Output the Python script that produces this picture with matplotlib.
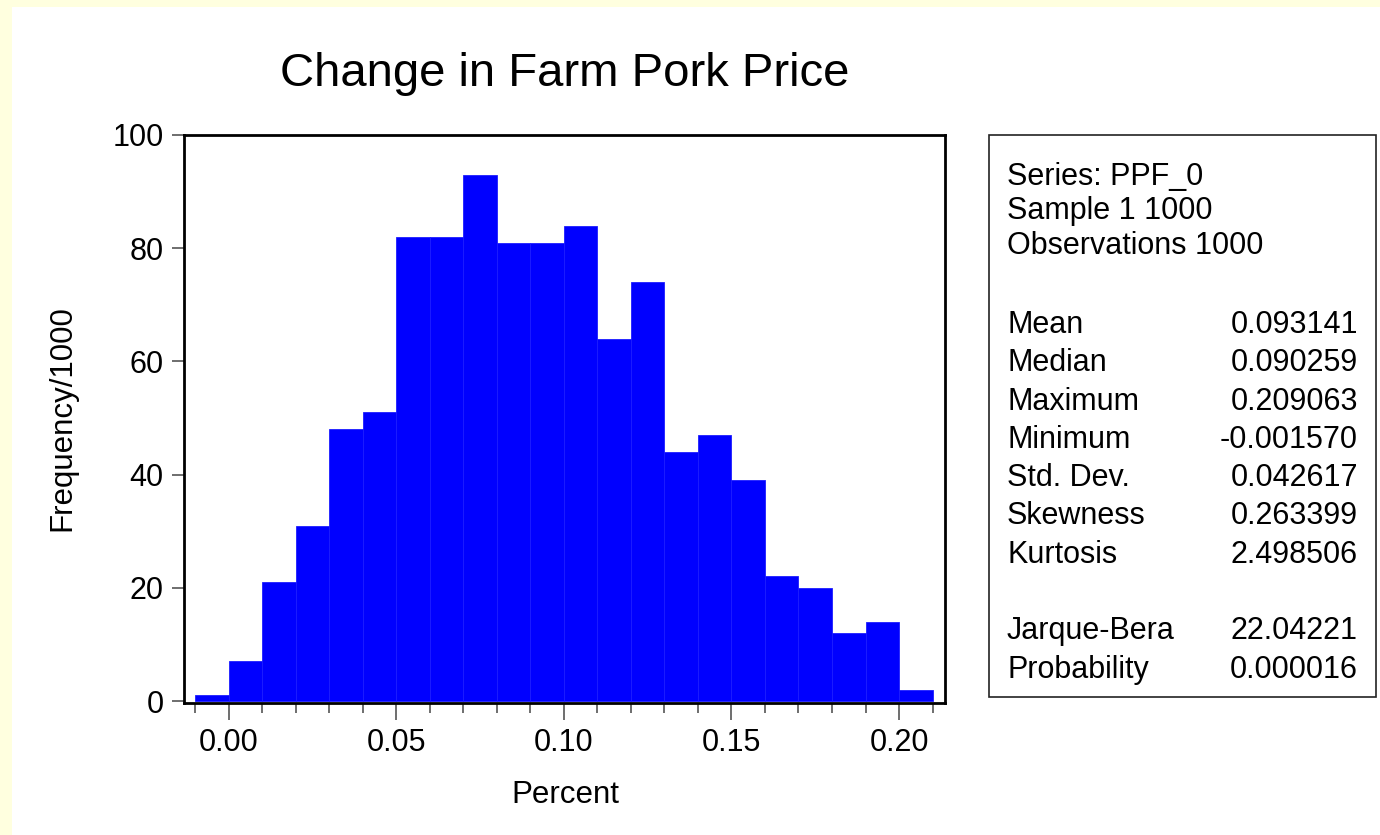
import numpy as np
import matplotlib
matplotlib.use("Agg")
import matplotlib.pyplot as plt
from matplotlib.patches import Rectangle
from matplotlib.ticker import MultipleLocator, FixedLocator, FuncFormatter

# ---- data ----
bin_left = [-0.01, 0.00, 0.01, 0.02, 0.03, 0.04, 0.05, 0.06, 0.07, 0.08, 0.09,
            0.10, 0.11, 0.12, 0.13, 0.14, 0.15, 0.16, 0.17, 0.18, 0.19, 0.20]
counts = [1, 7, 21, 31, 48, 51, 82, 82, 93, 81, 81,
          84, 64, 74, 44, 47, 39, 22, 20, 12, 14, 2]
bin_width = 0.01

title = "Change in Farm Pork Price"
xlabel = "Percent"
ylabel = "Frequency/1000"
x_major = [0.00, 0.05, 0.10, 0.15, 0.20]
y_major = [0, 20, 40, 60, 80, 100]

header_lines = ["Series: PPF_0", "Sample 1 1000", "Observations 1000"]
stat_names = ["Mean", "Median", "Maximum", "Minimum", "Std. Dev.", "Skewness", "Kurtosis"]
stat_values = ["0.093141", "0.090259", "0.209063", "-0.001570", "0.042617", "0.263399", "2.498506"]
test_names = ["Jarque-Bera", "Probability"]
test_values = ["22.04221", "0.000016"]

# ---- figure ----
plt.rcParams['font.family'] = ['Liberation Sans', 'DejaVu Sans']
W, H = 1380, 835
fig = plt.figure(figsize=(W / 100, H / 100), dpi=100)
fig.patch.set_facecolor('#FFFFDF')
fig.add_artist(Rectangle((12 / W, 0), 1 - 12 / W, 1 - 7 / H, transform=fig.transFigure,
                         facecolor='white', edgecolor='none', zorder=0))

def fx(px):
    return px / W

def fy(py):
    return 1 - py / H

left, right, top, bottom = 184, 945, 135, 703
ax = fig.add_axes([fx(left), fy(bottom), (right - left) / W, (bottom - top) / H])
ax.set_facecolor('white')

ax.bar(bin_left, counts, width=bin_width, align='edge', color='#0000FF',
       edgecolor='#1c1cff', linewidth=0.6, zorder=2)

ax.set_xlim(-0.0133, 0.2137)
ax.set_ylim(-0.35, 100)

ax.xaxis.set_major_locator(FixedLocator(x_major))
ax.xaxis.set_major_formatter(FuncFormatter(lambda v, p: f"{v:.2f}"))
ax.xaxis.set_minor_locator(MultipleLocator(0.01))
ax.yaxis.set_major_locator(FixedLocator(y_major))

tick_col = '#555555'
ax.tick_params(axis='x', which='major', direction='out', length=12, width=1.2,
               color=tick_col, labelsize=22, pad=6)
ax.tick_params(axis='x', which='minor', direction='out', length=7, width=1.2,
               color=tick_col)
ax.tick_params(axis='y', which='major', direction='out', length=8.5, width=1.2,
               color=tick_col, labelsize=22, pad=6)

for s in ax.spines.values():
    s.set_linewidth(2.0)
    s.set_color('black')
    s.set_zorder(3)

ax.set_title(title, fontsize=34, pad=35)
fig.text(fx(565), fy(803), xlabel, ha='center', va='baseline', fontsize=22.5)
fig.text(fx(62), fy(418), ylabel, ha='center', va='center', rotation=90, fontsize=22.5)

# ---- stats box ----
bx0, bx1, by0, by1 = 989, 1376, 135, 697
fig.add_artist(Rectangle((fx(bx0), fy(by1)), (bx1 - bx0) / W, (by1 - by0) / H,
                         transform=fig.transFigure, facecolor='white',
                         edgecolor='#222222', linewidth=1.2, zorder=1))
lx, rx = 1007, 1358
fs = 22
header_base = [185, 219, 254]
for txt, b in zip(header_lines, header_base):
    fig.text(fx(lx), fy(b), txt, ha='left', va='baseline', fontsize=fs)
step = 38.3
for i, (n, v) in enumerate(zip(stat_names, stat_values)):
    b = 333 + i * step
    fig.text(fx(lx), fy(b), n, ha='left', va='baseline', fontsize=fs)
    fig.text(fx(rx), fy(b), v, ha='right', va='baseline', fontsize=fs)
for i, (n, v) in enumerate(zip(test_names, test_values)):
    b = 333 + (len(stat_names) + 1 + i) * step
    fig.text(fx(lx), fy(b), n, ha='left', va='baseline', fontsize=fs)
    fig.text(fx(rx), fy(b), v, ha='right', va='baseline', fontsize=fs)

fig.savefig("out.png", dpi=100, facecolor=fig.get_facecolor())
